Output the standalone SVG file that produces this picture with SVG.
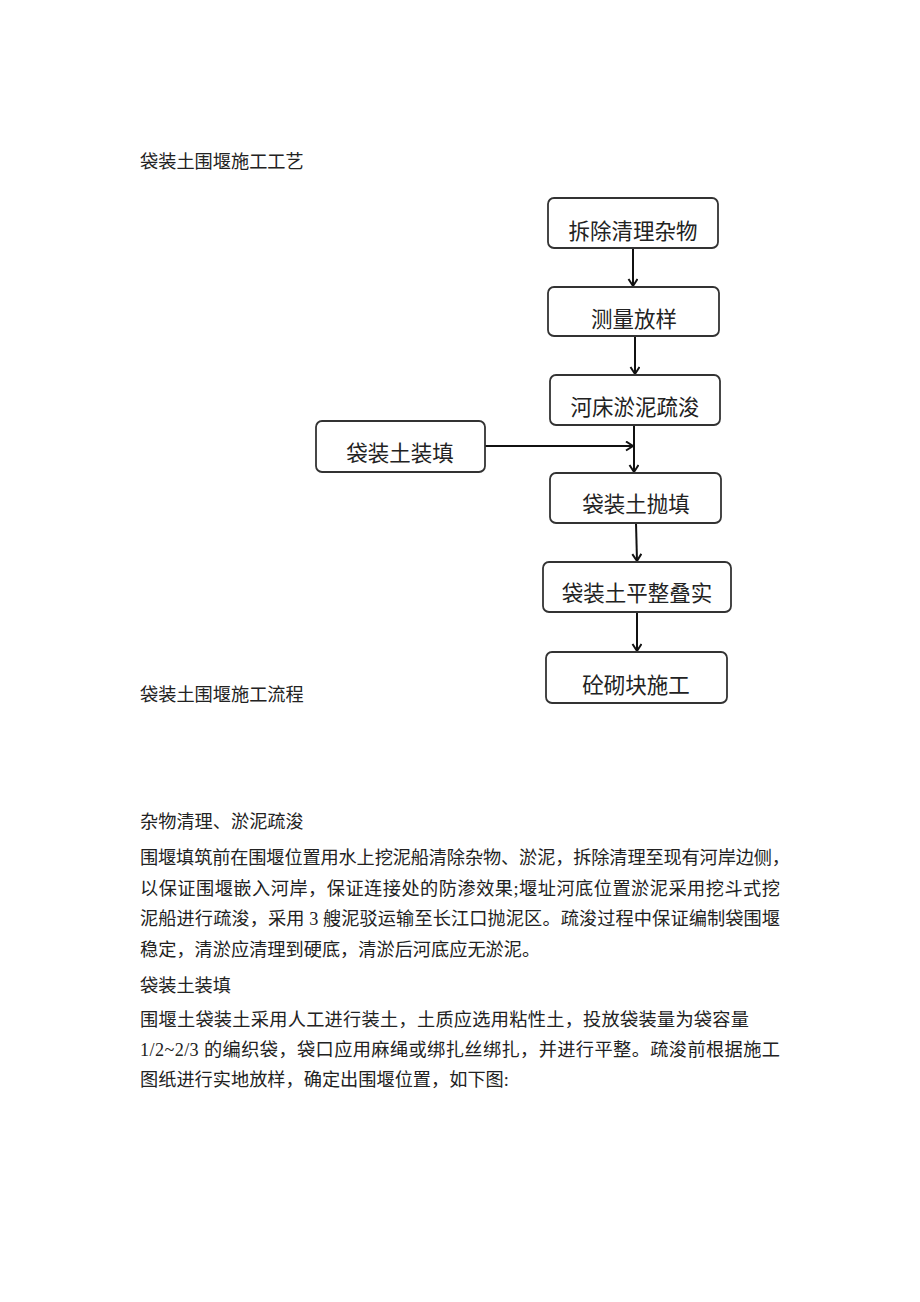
<svg xmlns="http://www.w3.org/2000/svg" width="920" height="1302" viewBox="0 0 920 1302">
<style>
.box{fill:#fff;stroke:#333;stroke-width:1.8}
.bt{font-family:"Noto Sans CJK SC",sans-serif;font-size:21.5px;fill:#222;text-anchor:middle}
.tx{font-family:"Liberation Serif","Noto Sans CJK SC",serif;font-size:18.2px;fill:#222}
.ln{stroke:#111;stroke-width:2;fill:none}
</style>
<defs>
<marker id="ah" markerWidth="12" markerHeight="12" refX="9" refY="5" orient="auto" markerUnits="userSpaceOnUse">
<path d="M2,0.5 L9,5 L2,9.5" fill="none" stroke="#111" stroke-width="2"/>
</marker>
</defs>
<rect width="920" height="1302" fill="#fff"/>
<text class="tx" x="140" y="168">袋装土围堰施工工艺</text>
<text class="tx" x="140" y="701">袋装土围堰施工流程</text>
<g id="connectors">
<line class="ln" x1="633" y1="248" x2="633" y2="286" marker-end="url(#ah)"/>
<line class="ln" x1="635" y1="336" x2="635" y2="374" marker-end="url(#ah)"/>
<line class="ln" x1="634" y1="425" x2="634" y2="472" marker-end="url(#ah)"/>
<line class="ln" x1="485" y1="446" x2="633" y2="446" marker-end="url(#ah)"/>
<line class="ln" x1="636" y1="523" x2="637" y2="561" marker-end="url(#ah)"/>
<line class="ln" x1="637" y1="612" x2="637" y2="651" marker-end="url(#ah)"/>
</g>
<g id="n1"><rect class="box" x="548" y="198" width="170" height="50" rx="6"/><text class="bt" x="633" y="239">拆除清理杂物</text></g>
<g id="n2"><rect class="box" x="548" y="287" width="171" height="49" rx="6"/><text class="bt" x="634" y="327">测量放样</text></g>
<g id="n3"><rect class="box" x="550" y="375" width="170" height="50" rx="6"/><text class="bt" x="635" y="415">河床淤泥疏浚</text></g>
<g id="n0"><rect class="box" x="316" y="421" width="169" height="51" rx="6"/><text class="bt" x="400" y="461">袋装土装填</text></g>
<g id="n4"><rect class="box" x="550" y="473" width="171" height="50" rx="6"/><text class="bt" x="636" y="512">袋装土抛填</text></g>
<g id="n5"><rect class="box" x="543" y="562" width="188" height="50" rx="6"/><text class="bt" x="637" y="601">袋装土平整叠实</text></g>
<g id="n6"><rect class="box" x="546" y="652" width="181" height="51" rx="6"/><text class="bt" x="636" y="693">砼砌块施工</text></g>
<text class="tx" x="140" y="828">杂物清理、淤泥疏浚</text>
<text class="tx" x="140" y="864" textLength="650" lengthAdjust="spacing">围堰填筑前在围堰位置用水上挖泥船清除杂物、淤泥，拆除清理至现有河岸边侧，</text>
<text class="tx" x="140" y="895" textLength="640" lengthAdjust="spacing">以保证围堰嵌入河岸，保证连接处的防渗效果;堰址河底位置淤泥采用挖斗式挖</text>
<text class="tx" x="140" y="925" textLength="640" lengthAdjust="spacing">泥船进行疏浚，采用 3 艘泥驳运输至长江口抛泥区。疏浚过程中保证编制袋围堰</text>
<text class="tx" x="140" y="956">稳定，清淤应清理到硬底，清淤后河底应无淤泥。</text>
<text class="tx" x="140" y="992">袋装土装填</text>
<text class="tx" x="140" y="1026" textLength="609" lengthAdjust="spacing">围堰土袋装土采用人工进行装土，土质应选用粘性土，投放袋装量为袋容量</text>
<text class="tx" x="140" y="1056" textLength="640" lengthAdjust="spacing">1/2~2/3 的编织袋，袋口应用麻绳或绑扎丝绑扎，并进行平整。疏浚前根据施工</text>
<text class="tx" x="140" y="1086">图纸进行实地放样，确定出围堰位置，如下图:</text>
</svg>
